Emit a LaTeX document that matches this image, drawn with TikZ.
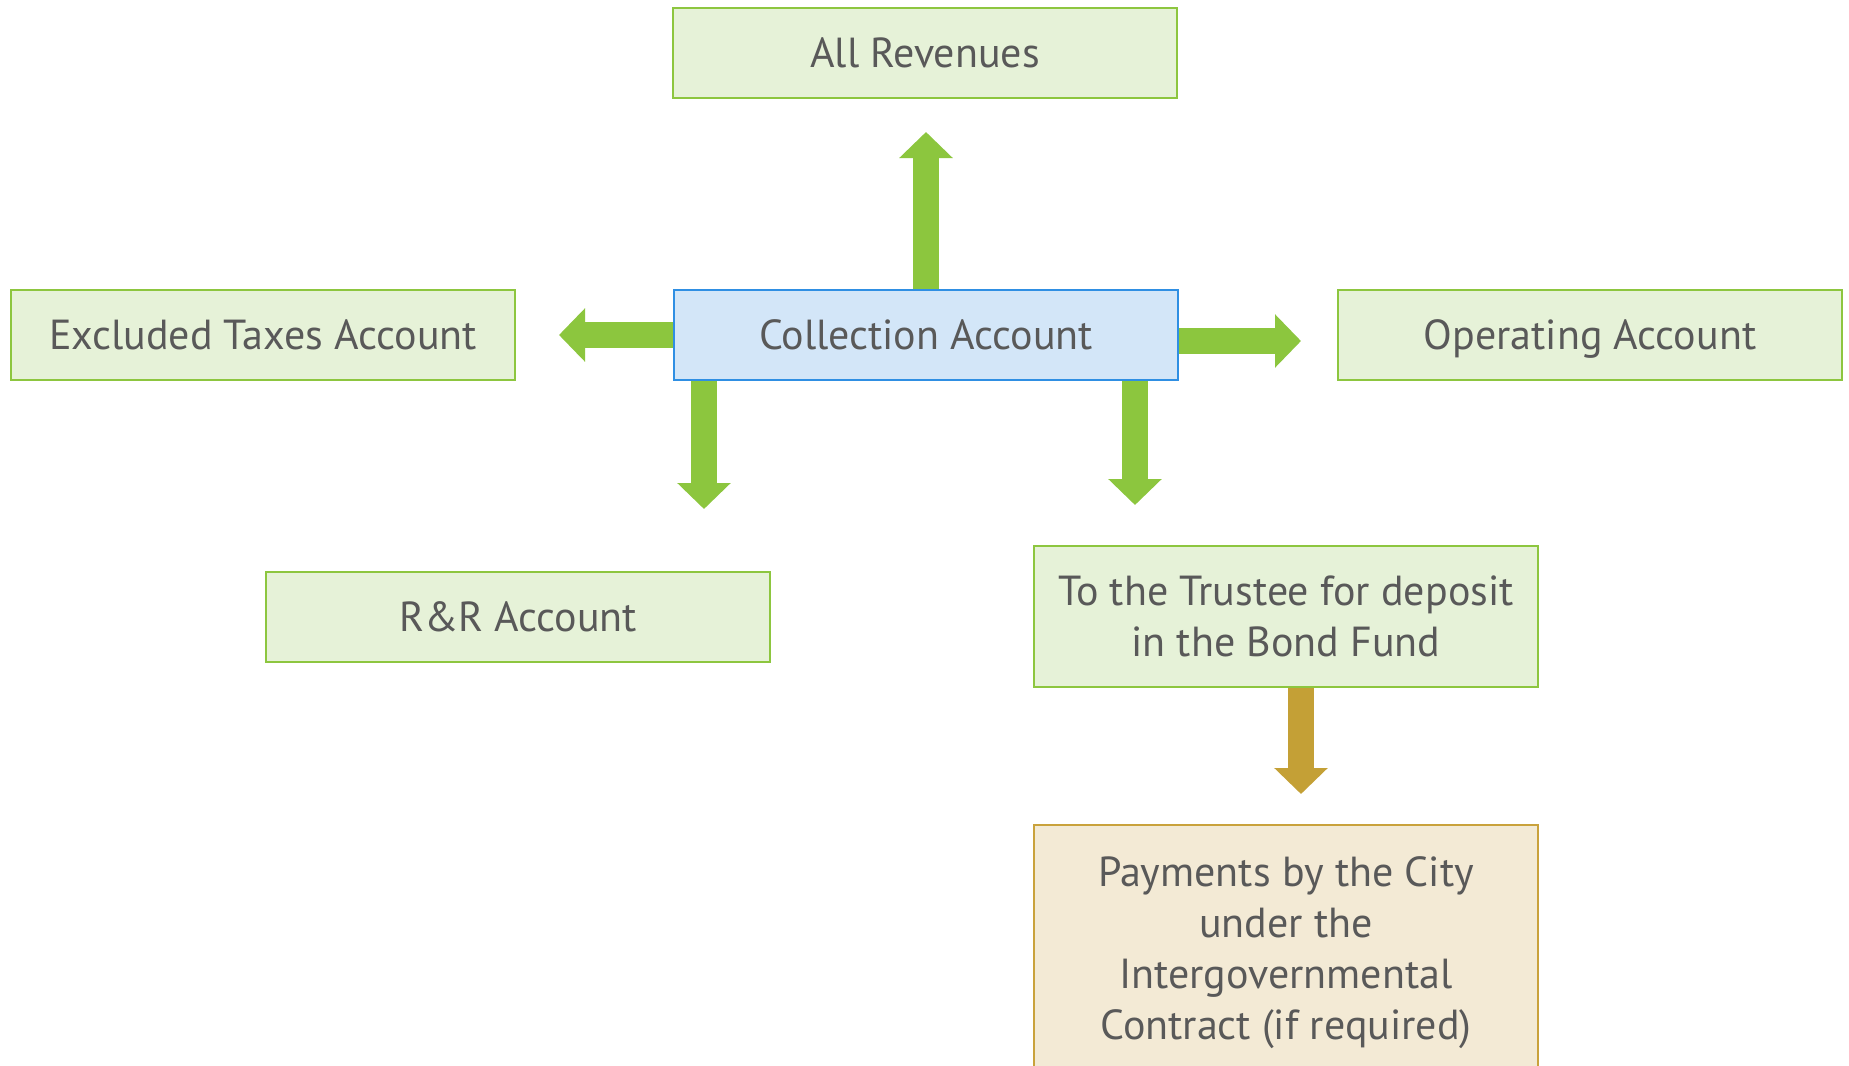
\documentclass[tikz,border=0pt]{standalone}
\usepackage{fontspec}
\setmainfont{PT Sans}
\usetikzlibrary{arrows.meta}
\definecolor{boxgreen}{HTML}{E6F2D8}
\definecolor{edgegreen}{HTML}{8DC63F}
\definecolor{arrgreen}{HTML}{8CC63E}
\definecolor{boxblue}{HTML}{D3E6F8}
\definecolor{edgeblue}{HTML}{2F8FE3}
\definecolor{boxtan}{HTML}{F3EAD5}
\definecolor{edgetan}{HTML}{C9A23C}
\definecolor{arrgold}{HTML}{C4A036}
\definecolor{txtgray}{HTML}{595959}
\begin{document}
\begin{tikzpicture}[x=0.5pt,y=-0.5pt,
  box/.style={draw=edgegreen, fill=boxgreen, line width=1pt, minimum width=252pt,
    minimum height=45pt, inner sep=0pt, text=txtgray,
    font=\fontsize{21}{25.5}\selectfont, align=center, anchor=north west},
  oneline/.style={text height=18pt, text depth=3.5pt},
  bluebox/.style={box, draw=edgeblue, fill=boxblue},
  tanbox/.style={box, draw=edgetan, fill=boxtan},
  garrow/.style={draw=arrgreen, line width=13pt, -{Triangle[width=26pt,length=13pt]}},
  goldarrow/.style={garrow, draw=arrgold}
]
\useasboundingbox (0,0) rectangle (1849,1066);
\clip (0,0) rectangle (1849,1066);
\fill[white] (0,0) rectangle (1849,1066);

\node[box, oneline] (rev) at (672,7) {All Revenues};
\node[bluebox, oneline] (coll) at (673,289) {Collection Account};
\node[box, oneline] (excl) at (10,289) {Excluded Taxes Account};
\node[box, oneline] (oper) at (1337,289) {Operating Account};
\node[box, oneline] (rr) at (265,571) {R\&R Account};
\node[box, minimum height=70.5pt] (trust) at (1033,545) {To the Trustee for deposit\\in the Bond Fund};
\node[tanbox, minimum height=127.5pt] (pay) at (1033,824) {Payments by the City\\under the\\Intergovernmental\\Contract (if required)};

\coordinate (upTip) at (926,132);
\coordinate (leftTip) at (559,335);
\coordinate (rightTip) at (1301,341);
\coordinate (dlTip) at (704,509);
\coordinate (drTip) at (1135,505);
\coordinate (goldTip) at (1301,794);

\draw[garrow] (coll.north -| upTip) -- (upTip);
\draw[garrow] (coll.west |- leftTip) -- (leftTip);
\draw[garrow] (coll.east |- rightTip) -- (rightTip);
\draw[garrow] (coll.south -| dlTip) -- (dlTip);
\draw[garrow] (coll.south -| drTip) -- (drTip);
\draw[goldarrow] (trust.south -| goldTip) -- (goldTip);
\end{tikzpicture}
\end{document}
